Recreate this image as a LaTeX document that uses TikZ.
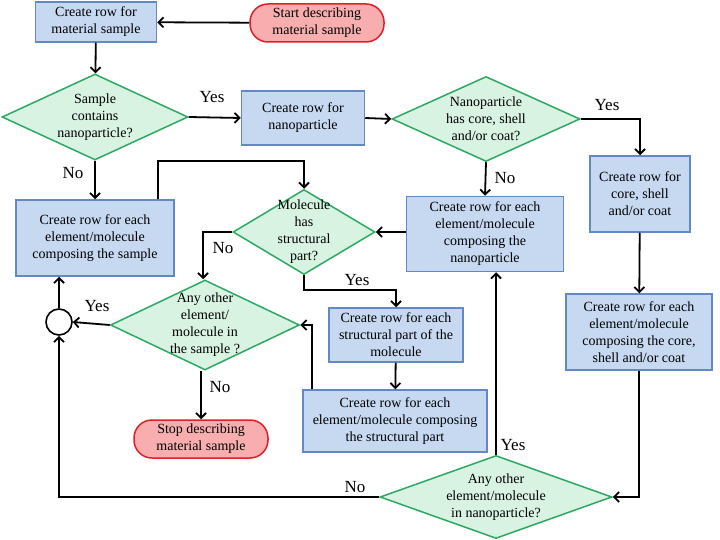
\documentclass[tikz,border=0pt]{standalone}
\usepackage{fontspec}
\setmainfont{Liberation Serif}
\usetikzlibrary{shapes.geometric,arrows.meta}

\definecolor{boxfill}{HTML}{C6D9F1}
\definecolor{boxline}{HTML}{6388C4}
\definecolor{decfill}{HTML}{D8F3E2}
\definecolor{decline}{HTML}{2DA862}
\definecolor{termfill}{HTML}{F8AEAE}
\definecolor{termline}{HTML}{DE2027}

\begin{document}
\begin{tikzpicture}[x=1pt, y=-1pt,
		every node/.style={font=\rmfamily\fontsize{14}{17}\selectfont, align=center},
		process/.style={rectangle, draw=boxline, fill=boxfill, line width=1.5pt, inner sep=0pt},
		decision/.style={diamond, draw=decline, fill=decfill, line width=1.5pt, inner sep=-6pt},
		terminal/.style={rectangle, rounded corners=18pt, draw=termline, fill=termfill, line width=1.5pt,
			inner sep=0pt, minimum width=134pt, minimum height=38pt},
		answer/.style={font=\rmfamily\fontsize{17}{20}\selectfont},
		flow/.style={line width=1.8pt, -{Straight Barb[length=5pt,width=10pt]}}]
		\useasboundingbox (0,0) rectangle (720,540);

		% start and first steps
		\node [terminal] (start) at (317,23) {Start describing\\material sample};
		\node [process, minimum width=121pt, minimum height=40pt] (mat) at (96,22) {Create row for\\material sample};
		\node [decision, shape aspect=2.16, minimum width=186pt, minimum height=86pt] (hasnp) at (95,117) {Sample\\contains\\nanoparticle?};
		\node [process, minimum width=123pt, minimum height=54pt] (np) at (303,118) {Create row for\\nanoparticle};
		\node [decision, shape aspect=2.21, minimum width=188pt, minimum height=85pt] (hascore) at (486,119) {Nanoparticle\\has core, shell\\and/or coat?};

		% nanoparticle branch
		\node [process, minimum width=100pt, minimum height=76pt] (core) at (640,194) {Create row for\\core, shell\\and/or coat};
		\node [process, minimum width=146pt, minimum height=76pt] (elcore) at (639,332) {Create row for each\\element/molecule\\composing the core,\\shell and/or coat};
		\node [process, minimum width=157pt, minimum height=75pt] (elnp) at (485,234) {Create row for each\\element/molecule\\composing the\\nanoparticle};
		\node [decision, shape aspect=2.8, minimum width=232pt, minimum height=83pt] (othernp) at (496,497) {Any other\\element/molecule\\in nanoparticle?};

		% sample branch
		\node [process, minimum width=158pt, minimum height=76pt] (elsample) at (95,238) {Create row for each\\element/molecule\\composing the sample};
		\node [decision, shape aspect=1.67, minimum width=142pt, minimum height=85pt] (haspart) at (304,232) {Molecule\\has\\structural\\part?};
		\node [process, minimum width=134pt, minimum height=54pt] (part) at (396,335) {Create row for each\\structural part of the\\molecule};
		\node [process, minimum width=184pt, minimum height=62pt] (elpart) at (395,421) {Create row for each\\element/molecule composing\\the structural part};
		\node [decision, shape aspect=2.1, minimum width=189pt, minimum height=90pt] (othersample) at (205,325) {Any other\\element/\\molecule in\\the sample ?};
		\node [circle, draw, line width=1.6pt, minimum size=26pt, inner sep=0pt] (join) at (59,322) {};
		\node [terminal] (stop) at (201,439) {Stop describing\\material sample};

		% connectors
		\draw [flow] (start) -- (mat);
		\draw [flow] (mat) -- (hasnp);
		\draw [flow] (hasnp.east) -- (np.west);
		\draw [flow] (np.east) -- (hascore.west);
		\draw [flow] (hascore.east) -| (core.north);
		\draw [flow] (hascore.south) -- (elnp.north);
		\draw [flow] (core) -- (elcore);
		\draw [flow] (elcore.south) |- (othernp.east);
		\draw [flow] (othernp.north) -- (othernp.north |- elnp.south);
		\draw [flow] (othernp.west) -| (join.south);
		\draw [flow] (hasnp.south) -- (elsample.north);
		\draw [flow] ([xshift=-17pt]elsample.north east) |- ([yshift=28pt]haspart.north) -- (haspart.north);
		\draw [flow] (haspart.east -| elnp.west) -- (haspart.east);
		\draw [flow] (haspart.west) -| ([xshift=-2pt]othersample.north);
		\draw [flow] (haspart.south) -- ++(0,15) -| (part.north);
		\draw [flow] (part) -- (elpart);
		\draw [flow] ([xshift=10pt]elpart.north west) |- (othersample.east);
		\draw [flow] (othersample.west) -- (join.east);
		\draw [flow] (join.north) -- (join.north |- elsample.south);
		\draw [flow] (othersample.south -| stop.north) -- (stop.north);

		% answers
		\node [answer] (yes1) at (212,97) {Yes};
		\node [answer] (no1) at (73,173) {No};
		\node [answer] (yes2) at (607,105) {Yes};
		\node [answer] (no2) at (505,178) {No};
		\node [answer] (no3) at (223,248) {No};
		\node [answer] (yes3) at (357,280) {Yes};
		\node [answer] (yes4) at (97,306) {Yes};
		\node [answer] (no4) at (220,387) {No};
		\node [answer] (yes5) at (513,445) {Yes};
		\node [answer] (no5) at (355,487) {No};
	\end{tikzpicture}
\end{document}
